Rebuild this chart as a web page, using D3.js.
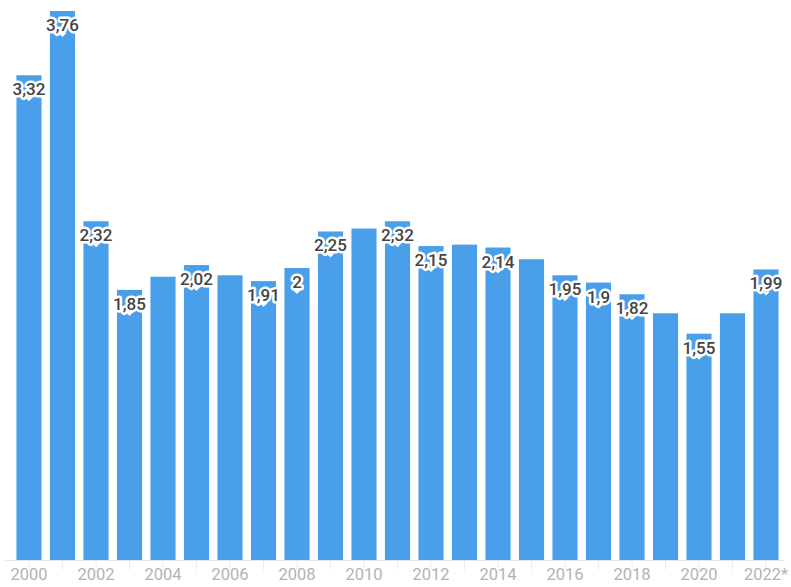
<!DOCTYPE html>
<html><head><meta charset="utf-8">
<script src="https://cdn.jsdelivr.net/npm/d3@7"></script>
<style>body{margin:0;background:#fff}svg{display:block}</style>
</head><body>
<svg id="c" width="791" height="587"></svg>
<script>
const years = ["2000","2001","2002","2003","2004","2005","2006","2007","2008","2009","2010","2011","2012","2013","2014","2015","2016","2017","2018","2019","2020","2021","2022*"];
const values = [3.32,3.76,2.32,1.85,1.94,2.02,1.95,1.91,2.00,2.25,2.27,2.32,2.15,2.16,2.14,2.06,1.95,1.90,1.82,1.69,1.55,1.69,1.99];
const labelled = [true,true,true,true,false,true,false,true,true,true,false,true,true,false,true,false,true,true,true,false,true,false,true];
const tickLabels = ["2000","2002","2004","2006","2008","2010","2012","2014","2016","2018","2020","2022*"];

const svg = d3.select("#c");
const x = d3.scaleBand().domain(years).range([12.25, 782.75]).paddingInner(0.25).paddingOuter(0.125);
const y = d3.scaleLinear().domain([0, 3.76]).range([560, 11]);
const fmt = v => String(+v.toFixed(2)).replace(".", ",");

svg.append("g").selectAll("rect").data(values).join("rect")
  .attr("x", (d,i) => x(years[i]))
  .attr("y", d => y(d))
  .attr("width", x.bandwidth())
  .attr("height", d => y(0) - y(d))
  .attr("fill", "#4a9fea");

const ax = svg.append("g").attr("transform", "translate(0,560)")
  .call(d3.axisBottom(x).tickSize(10).tickFormat(d => tickLabels.includes(d) ? d : ""));
ax.select(".domain").attr("stroke", "#e6e6e6").attr("d", "M5,0.5H785");
ax.selectAll(".tick line").attr("stroke", "#ececec");
ax.selectAll(".tick text").attr("fill", "#b3b3b3").attr("font-family", "Roboto, sans-serif")
  .attr("font-size", 16.5).attr("dy", "0.4em");

const lg = svg.append("g");
values.forEach((v, i) => {
  if (!labelled[i]) return;
  const cx = x(years[i]) + x.bandwidth() / 2;
  const cy = y(v) + 14;
  lg.append("path")
    .attr("d", `M${cx-4},${cy+8}L${cx},${cy+12}L${cx+4},${cy+8}Z`)
    .attr("fill", "#fff");
  lg.append("text")
    .attr("x", cx).attr("y", cy)
    .attr("text-anchor", "middle").attr("dominant-baseline", "central")
    .attr("font-family", "Roboto, sans-serif").attr("font-weight", 500).attr("font-size", 17)
    .attr("fill", "#444").attr("stroke", "#fff").attr("stroke-width", 5)
    .attr("stroke-linejoin", "round").attr("paint-order", "stroke")
    .text(fmt(v));
});
</script>
</body></html>
